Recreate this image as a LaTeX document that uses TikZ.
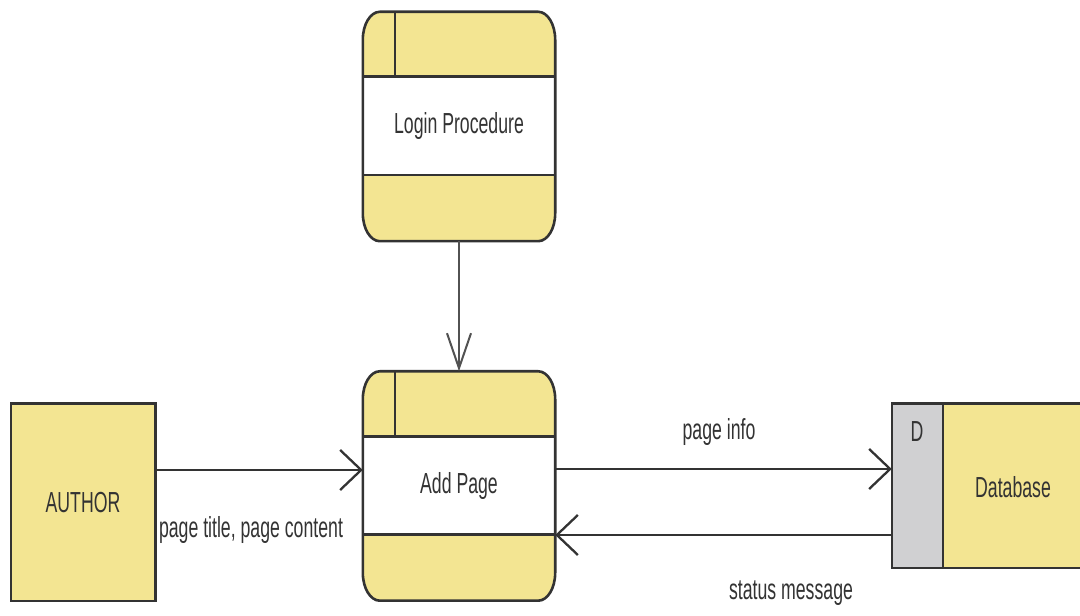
\documentclass[tikz,border=0pt]{standalone}
\usepackage{fontspec}
\setmainfont{Liberation Sans}[FakeStretch=0.61]
\usetikzlibrary{arrows.meta,backgrounds,calc}
\definecolor{dfdyellow}{HTML}{F3E592}
\definecolor{dfdgray}{HTML}{D0D0D2}
\definecolor{dfdline}{HTML}{333333}
\definecolor{dfdtext}{HTML}{333333}
\tikzset{
  lbl/.style={font=\fontsize{29}{32}\selectfont, text=dfdtext, inner sep=0pt},
  proc/.style={lbl, minimum width=192pt, minimum height=229pt, inner sep=0pt},
  ext/.style={lbl, minimum width=144pt, minimum height=197pt, inner sep=0pt},
  store/.style={minimum width=188pt, minimum height=164pt, inner sep=0pt},
  border/.style={draw=dfdline, line width=2.6pt},
  flowh/.style={draw=dfdline, line width=2.3pt, -{Straight Barb[length=21pt, width=40pt]}},
  flowv/.style={draw=dfdline!85, line width=2pt, -{Straight Barb[length=35pt, width=24pt]}}
}
\newcommand\procshape[1]{%
  \fill[dfdyellow] ([yshift=28pt]#1.south west) -- ([yshift=-28pt]#1.north west)
    arc[start angle=180, end angle=90, x radius=17pt, y radius=28pt]
    -- ([xshift=-17pt]#1.north east)
    arc[start angle=90, end angle=0, x radius=17pt, y radius=28pt]
    -- ([yshift=28pt]#1.south east)
    arc[start angle=0, end angle=-90, x radius=17pt, y radius=28pt]
    -- ([xshift=17pt]#1.south west)
    arc[start angle=270, end angle=180, x radius=17pt, y radius=28pt] -- cycle;
  \fill[white] ([yshift=66pt]#1.south west) rectangle ([yshift=-65pt]#1.north east);
  \draw[border] ([yshift=66pt]#1.south west) -- ([yshift=66pt]#1.south east);
  \draw[border] ([yshift=-65pt]#1.north west) -- ([yshift=-65pt]#1.north east);
  \draw[border] ([xshift=32pt]#1.north west) -- ([xshift=32pt,yshift=-65pt]#1.north west);
  \draw[border] ([yshift=28pt]#1.south west) -- ([yshift=-28pt]#1.north west)
    arc[start angle=180, end angle=90, x radius=17pt, y radius=28pt]
    -- ([xshift=-17pt]#1.north east)
    arc[start angle=90, end angle=0, x radius=17pt, y radius=28pt]
    -- ([yshift=28pt]#1.south east)
    arc[start angle=0, end angle=-90, x radius=17pt, y radius=28pt]
    -- ([xshift=17pt]#1.south west)
    arc[start angle=270, end angle=180, x radius=17pt, y radius=28pt] -- cycle;
}
\begin{document}
\begin{tikzpicture}[x=1pt, y=1pt]
\useasboundingbox (0,0) rectangle (1080,616);
% nodes
\node[proc] (login) at (459,489.5) {Login Procedure};
\node[proc] (add) at (459,130) {Add Page};
\node[ext] (author) at (83,113.5) {AUTHOR};
\node[store] (db) at (986,130) {};
\node[lbl] (dbD) at (917,184) {D};
\node[lbl] (dbname) at (1013,129) {Database};
% shapes behind
\begin{scope}[on background layer]
  \fill[white] (0,0) rectangle (1080,616);
  \procshape{login}
  \procshape{add}
  \fill[dfdyellow] (author.south west) rectangle (author.north east);
  \draw[border] (author.south west) rectangle (author.north east);
  \fill[dfdyellow] (db.south west) rectangle (db.north east);
  \fill[dfdgray] (db.south west) rectangle ([xshift=51pt]db.north west);
  \draw[border] (db.north east) -- (db.north west) -- (db.south west) -- (db.south east);
  \draw[border] ([xshift=51pt]db.north west) -- ([xshift=51pt]db.south west);
\end{scope}
% flows
\draw[flowv] (login.south) -- (add.north);
\draw[flowh] ([yshift=32.5pt]author.east) -- ([yshift=16pt]add.west);
\draw[flowh] ([yshift=17pt]add.east) -- ([yshift=17pt]db.west);
\draw[flowh] ([yshift=-49pt]db.west) -- ([yshift=-49pt]add.east);
% labels
\node[lbl] (lblin) at (251,86) {page title, page content};
\node[lbl] (lblinfo) at (719,184) {page info};
\node[lbl] (lblstatus) at (791,23) {status message};
\end{tikzpicture}
\end{document}
